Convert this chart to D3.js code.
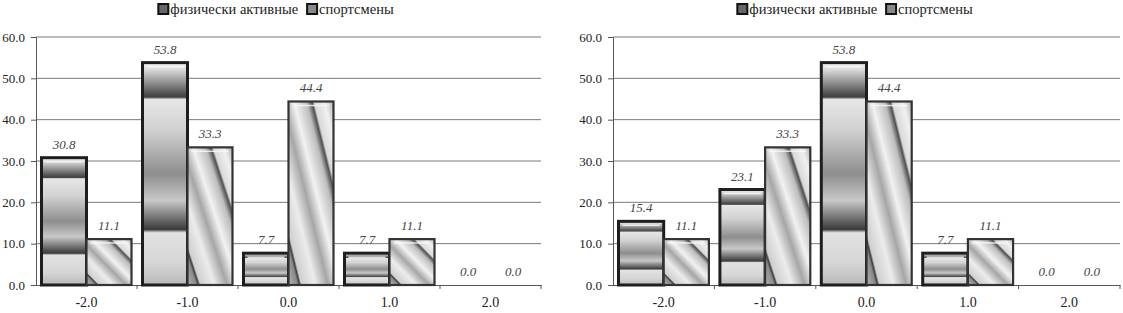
<!DOCTYPE html>
<html>
<head>
<meta charset="utf-8">
<script src="https://cdn.jsdelivr.net/npm/d3@7"></script>
<style>
  body { margin: 0; background: #fff; }
</style>
</head>
<body>
<svg id="chart" width="1123" height="313"></svg>
<script>
// data
var categories = ["-2.0", "-1.0", "0.0", "1.0", "2.0"];
var seriesNames = ["физически активные", "спортсмены"];
var yTicks = [0, 10, 20, 30, 40, 50, 60];

var active1 = [30.8, 53.8, 7.7, 7.7, 0.0];
var sport1  = [11.1, 33.3, 44.4, 11.1, 0.0];
var active2 = [15.4, 23.1, 53.8, 7.7, 0.0];
var sport2  = [11.1, 33.3, 44.4, 11.1, 0.0];

var serif = "Liberation Serif";

var svg = d3.select("#chart");
var defs = svg.append("defs");

// banded vertical gradient for "физически активные"
var g1 = defs.append("linearGradient").attr("id", "gActive")
    .attr("x1", 0).attr("y1", 0).attr("x2", 0).attr("y2", 1);
[[0, "#f4f4f4"], [0.03, "#dcdcdc"], [0.155, "#3e3e3e"], [0.165, "#e6e6e6"], [0.3, "#d2d2d2"],
 [0.5, "#8e8e8e"], [0.62, "#c8c8c8"], [0.75, "#3a3a3a"], [0.765, "#e2e2e2"], [0.9, "#d6d6d6"],
 [1, "#b8b8b8"]].forEach(function(s) {
    g1.append("stop").attr("offset", s[0]).attr("stop-color", s[1]);
});

// diagonal streaks for "спортсмены" (isolines follow the bar's diagonal)
var g2 = defs.append("linearGradient").attr("id", "gSport")
    .attr("x1", 0).attr("y1", 1).attr("x2", 1).attr("y2", 0);
[[0, "#b4b4b4"], [0.1, "#8a8a8a"], [0.125, "#3e3e3e"], [0.145, "#cfcfcf"], [0.3, "#ececec"],
 [0.44, "#a6a6a6"], [0.56, "#f2f2f2"], [0.7, "#bdbdbd"], [0.76, "#505050"], [0.785, "#dadada"],
 [0.9, "#f0f0f0"], [1, "#b0b0b0"]].forEach(function(s) {
    g2.append("stop").attr("offset", s[0]).attr("stop-color", s[1]);
});

function drawChart(left, right, legendCenter, active, sport) {
    var top = 37, bottom = 285;
    var y = d3.scaleLinear().domain([0, 60]).range([bottom, top]);
    var x = d3.scaleBand().domain(categories).range([left, right]).padding(0);
    var inner = d3.scaleBand().domain([0, 1]).range([5.5, x.bandwidth() - 5.5]).padding(0);

    var g = svg.append("g");

    // gridlines
    g.selectAll(".grid").data(yTicks.slice(1)).enter().append("line")
        .attr("x1", left).attr("x2", right)
        .attr("y1", function(d) { return y(d); }).attr("y2", function(d) { return y(d); })
        .attr("stroke", "#7a7a7a").attr("stroke-width", 1);

    // y axis
    var yAxis = d3.axisLeft(y).tickValues(yTicks).tickFormat(d3.format(".1f")).tickSize(5).tickPadding(6);
    var ya = g.append("g").attr("transform", "translate(" + left + ",0)").call(yAxis);
    ya.attr("font-family", null).attr("font-size", null);
    ya.select(".domain").attr("stroke", "#555");
    ya.selectAll(".tick line").attr("stroke", "#555");
    ya.selectAll("text").style("font-family", serif).style("font-size", "13px").attr("fill", "#222");

    // x axis
    var xAxis = d3.axisBottom(x).tickSize(0).tickPadding(12);
    var xa = g.append("g").attr("transform", "translate(0," + bottom + ")").call(xAxis);
    xa.attr("font-family", null).attr("font-size", null);
    xa.select(".domain").attr("stroke", "#555");
    xa.selectAll("text").style("font-family", serif).style("font-size", "14px").attr("fill", "#222");
    xa.selectAll(".sep").data(categories).enter().append("line")
        .attr("class", "sep")
        .attr("x1", function(d) { return x(d) + x.bandwidth(); })
        .attr("x2", function(d) { return x(d) + x.bandwidth(); })
        .attr("y1", 0).attr("y2", 4).attr("stroke", "#555");

    var rows = categories.map(function(c, i) { return { c: c, v: [active[i], sport[i]] }; });
    var grp = g.selectAll(".cat").data(rows).enter().append("g")
        .attr("transform", function(d) { return "translate(" + x(d.c) + ",0)"; });

    var bars = grp.selectAll("rect").data(function(d) {
        return d.v.map(function(v, k) { return { k: k, v: v }; });
    }).enter();

    bars.filter(function(d) { return d.v > 0; }).append("rect")
        .attr("x", function(d) { return inner(d.k); })
        .attr("width", inner.bandwidth())
        .attr("y", function(d) { return y(d.v); })
        .attr("height", function(d) { return bottom - y(d.v); })
        .attr("fill", function(d) { return d.k === 0 ? "url(#gActive)" : "url(#gSport)"; })
        .attr("stroke", function(d) { return d.k === 0 ? "#1e1e1e" : "#333"; })
        .attr("stroke-width", function(d) { return d.k === 0 ? 3 : 2.2; });

    // light bevel line near the top of each bar
    bars.filter(function(d) { return d.v > 3; }).append("line")
        .attr("x1", function(d) { return inner(d.k) + 4; })
        .attr("x2", function(d) { return inner(d.k) + inner.bandwidth() - 4; })
        .attr("y1", function(d) { return y(d.v) + 4; })
        .attr("y2", function(d) { return y(d.v) + 4; })
        .attr("stroke", "#fafafa").attr("stroke-width", 1.5).attr("opacity", 0.8);

    bars.append("text")
        .attr("x", function(d) { return inner(d.k) + inner.bandwidth() / 2; })
        .attr("y", function(d) { return d.v > 0 ? y(d.v) - 9 : bottom - 9; })
        .attr("text-anchor", "middle")
        .style("font-family", serif).style("font-size", "13px").style("font-style", "italic")
        .attr("fill", "#444")
        .text(function(d) { return d3.format(".1f")(d.v); });

    // legend: items laid out from measured text widths, centred on legendCenter
    var lg = svg.append("g");
    var pos = 0;
    seriesNames.forEach(function(name, k) {
        var it = lg.append("g").attr("transform", "translate(" + pos + ",0)");
        it.append("rect").attr("x", 0).attr("y", -5).attr("width", 10).attr("height", 10)
            .attr("fill", k === 0 ? "#666" : "#888").attr("stroke", "#111").attr("stroke-width", 2);
        var t = it.append("text").attr("x", 12).attr("y", 5)
            .style("font-family", serif).style("font-size", "14.5px").attr("fill", "#222").text(name);
        pos += 12 + t.node().getComputedTextLength() + (k === 0 ? 9 : 0);
    });
    lg.attr("transform", "translate(" + (legendCenter - pos / 2) + ",9)");
}

drawChart(36, 541, 276, active1, sport1);
drawChart(613, 1120, 855, active2, sport2);
</script>
</body>
</html>
